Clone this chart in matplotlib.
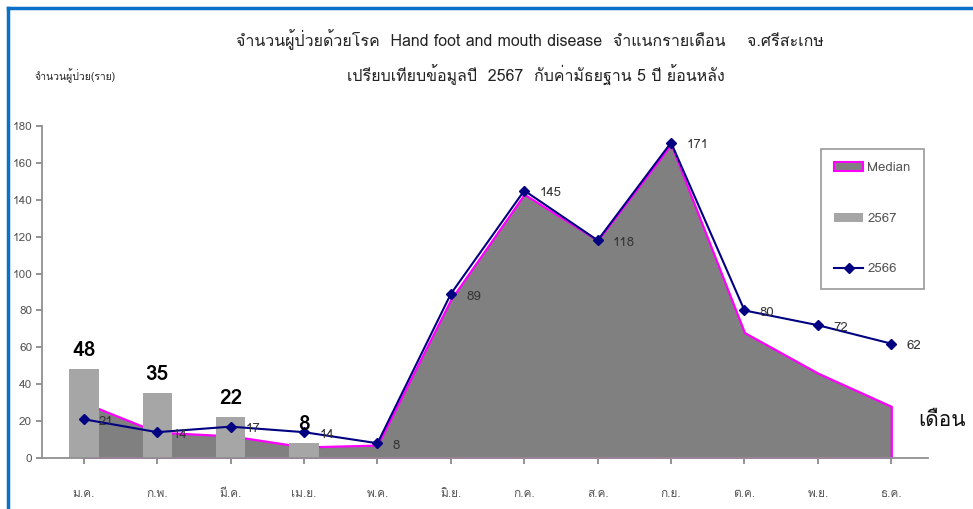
import numpy as np
import matplotlib
matplotlib.use('Agg')
import matplotlib.pyplot as plt
from matplotlib import font_manager
from matplotlib.lines import Line2D
from matplotlib.patches import Patch
from fontTools.ttLib import TTFont

# monthly data (Thai month abbreviations)
months = ['ม.ค.', 'ก.พ.', 'มี.ค.', 'เม.ย.', 'พ.ค.', 'มิ.ย.',
          'ก.ค.', 'ส.ค.', 'ก.ย.', 'ต.ค.', 'พ.ย.', 'ธ.ค.']
median_5y = [30, 14, 12, 6, 7, 86, 143, 118, 170, 68, 46, 28]
cases_2567 = [48, 35, 22, 8]
cases_2566 = [21, 14, 17, 14, 8, 89, 145, 118, 171, 80, 72, 62]
yticks = [0, 20, 40, 60, 80, 100, 120, 140, 160, 180]

title1 = 'จำนวนผู้ป่วยด้วยโรค  Hand foot and mouth disease  จำแนกรายเดือน    จ.ศรีสะเกษ'
title2 = 'เปรียบเทียบข้อมูลปี  2567  กับค่ามัธยฐาน 5 ปี ย้อนหลัง'
ylab = 'จำนวนผู้ป่วย(ราย)'
xlab = 'เดือน'


# look for an installed font that has Thai glyphs
def find_thai_font():
    for f in font_manager.fontManager.ttflist:
        try:
            tt = TTFont(f.fname, fontNumber=0, lazy=True)
            cmap = tt.getBestCmap()
            if cmap and 0x0E01 in cmap and 0x0E40 in cmap:
                return f.name
        except Exception:
            pass
    return None

thai = find_thai_font()
fams = [thai, 'DejaVu Sans'] if thai else ['DejaVu Sans']
plt.rcParams['font.family'] = fams

W, H = 973, 509
fig = plt.figure(figsize=(W / 100, H / 100), dpi=100)
ax = fig.add_axes([42 / W, (H - 458) / H, (928 - 42) / W, (458 - 126) / H])

x = np.arange(len(months))

# median area
ax.fill_between(x, median_5y, 0, facecolor='#808080', edgecolor='#ff00ff',
                linewidth=1.6, zorder=1)
# 2567 bars
xb = np.arange(len(cases_2567))
ax.bar(xb, cases_2567, width=0.4, color='#a6a6a6', zorder=2)
# 2566 line
ax.plot(x, cases_2566, color='#000080', lw=1.5, marker='D', ms=5, zorder=3)

for xi, v in zip(xb, cases_2567):
    ax.annotate(str(v), (xi, v), xytext=(0, 7), textcoords='offset points',
                ha='center', va='bottom', fontsize=15, fontweight='bold',
                color='black', zorder=5)
for xi, v in zip(x, cases_2566):
    ax.annotate(str(v), (xi, v), xytext=(11, -2), textcoords='offset points',
                ha='left', va='center', fontsize=9.5, color='#333333', zorder=5)

ax.set_xlim(-0.57, 11.5)
ax.set_ylim(0, 180)
ax.set_yticks(yticks)
ax.set_xticks(x)
ax.set_xticklabels(months)
ax.tick_params(axis='y', colors='#808080', labelsize=8.5, length=4, width=1.2,
               direction='out', pad=3)
ax.tick_params(axis='x', colors='#808080', labelsize=8.5, length=4, width=1.2,
               direction='out', pad=18)
for lab in ax.get_xticklabels() + ax.get_yticklabels():
    lab.set_color('#555555')
for s in ['top', 'right']:
    ax.spines[s].set_visible(False)
for s in ['left', 'bottom']:
    ax.spines[s].set_color('#909090')
    ax.spines[s].set_linewidth(1.3)

# legend
handles = [Patch(facecolor='#808080', edgecolor='#ff00ff', linewidth=1.5),
           Patch(facecolor='#a6a6a6', edgecolor='none'),
           Line2D([0], [0], color='#000080', lw=1.5, marker='D', ms=5)]
leg = ax.legend(handles, ['Median', '2567', '2566'], loc='upper left',
                bbox_to_anchor=((821 - 42) / (928 - 42), (458 - 149) / (458 - 126)),
                borderaxespad=0, frameon=True, fancybox=False,
                edgecolor='#808080', fontsize=9.5, labelspacing=2.9,
                handlelength=2.2, handletextpad=0.3, borderpad=1.0,
                labelcolor='#555555')
leg.get_frame().set_linewidth(1.2)

# titles and axis text
fig.text(530 / W, 1 - 40 / H, title1, ha='center', va='center', fontsize=11.5,
         color='#222222')
fig.text(536 / W, 1 - 75 / H, title2, ha='center', va='center', fontsize=11.5,
         color='#222222')
fig.text(75 / W, 1 - 76 / H, ylab, ha='center', va='center', fontsize=7.5,
         color='#222222')
fig.text(942 / W, 1 - 420 / H, xlab, ha='center', va='center', fontsize=15,
         color='#111111')

# blue frame along top and left
fig.add_artist(Line2D([8 / W, 1], [1 - 8 / H, 1 - 8 / H], color='#0a70c8',
                      lw=2.5, transform=fig.transFigure))
fig.add_artist(Line2D([8 / W, 8 / W], [0, 1 - 8 / H], color='#0a70c8',
                      lw=2.5, transform=fig.transFigure))

fig.savefig('out.png', dpi=100)
